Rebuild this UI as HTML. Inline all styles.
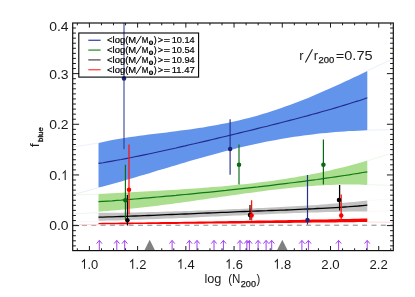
<!DOCTYPE html>
<html><head><meta charset="utf-8"><title>f_blue vs log N200</title>
<style>html,body{margin:0;padding:0;background:#fff;}body{width:415px;height:297px;overflow:hidden;position:relative;font-family:"Liberation Sans",sans-serif;}</style>
</head><body>
<svg width="415" height="297" viewBox="0 0 415 297" style="position:absolute;left:0;top:0;will-change:transform;font-family:'Liberation Sans',sans-serif">
<rect width="415" height="297" fill="#fff"/>
<line x1="72.6" y1="225.2" x2="393.3" y2="225.2" stroke="#858585" stroke-width="1" stroke-dasharray="5 4.34"/>
<polygon points="98.5,143.0 103.1,141.9 107.6,141.0 112.2,140.1 116.7,139.2 121.3,138.5 125.8,137.7 130.4,137.0 134.9,136.4 139.5,135.8 144.1,135.2 148.6,134.6 153.2,134.0 157.7,133.5 162.3,132.9 166.8,132.4 171.4,131.8 176.0,131.2 180.5,130.6 185.1,130.0 189.6,129.4 194.2,128.8 198.7,128.1 203.3,127.4 207.8,126.6 212.4,125.8 217.0,125.0 221.5,124.1 226.1,123.2 230.6,122.2 235.2,121.2 239.7,120.2 244.3,119.0 248.8,117.9 253.4,116.7 258.0,115.4 262.5,114.1 267.1,112.7 271.6,111.2 276.2,109.8 280.7,108.2 285.3,106.6 289.8,105.0 294.4,103.3 299.0,101.5 303.5,99.7 308.1,97.9 312.6,96.0 317.2,94.1 321.7,92.1 326.3,90.1 330.9,88.1 335.4,86.0 340.0,83.9 344.5,81.8 349.1,79.7 353.6,77.5 358.2,75.4 362.7,73.2 367.3,71.0 367.3,130.3 362.7,130.5 358.2,130.7 353.6,130.9 349.1,131.1 344.5,131.4 340.0,131.7 335.4,132.1 330.9,132.5 326.3,132.9 321.7,133.3 317.2,133.8 312.6,134.4 308.1,134.9 303.5,135.5 299.0,136.2 294.4,136.8 289.8,137.6 285.3,138.3 280.7,139.1 276.2,139.9 271.6,140.8 267.1,141.6 262.5,142.6 258.0,143.5 253.4,144.5 248.8,145.5 244.3,146.6 239.7,147.6 235.2,148.8 230.6,149.9 226.1,151.0 221.5,152.2 217.0,153.4 212.4,154.7 207.8,155.9 203.3,157.2 198.7,158.5 194.2,159.8 189.6,161.1 185.1,162.4 180.5,163.8 176.0,165.2 171.4,166.5 166.8,167.9 162.3,169.3 157.7,170.6 153.2,172.0 148.6,173.4 144.1,174.8 139.5,176.1 134.9,177.5 130.4,178.8 125.8,180.1 121.3,181.4 116.7,182.7 112.2,184.0 107.6,185.2 103.1,186.4 98.5,187.6" fill="#6394ec"/>
<polyline points="98.5,163.4 103.1,162.7 107.6,161.9 112.2,161.1 116.7,160.3 121.3,159.5 125.8,158.6 130.4,157.7 134.9,156.8 139.5,155.9 144.1,154.9 148.6,154.0 153.2,153.0 157.7,152.0 162.3,151.0 166.8,150.0 171.4,149.0 176.0,148.0 180.5,146.9 185.1,145.9 189.6,144.8 194.2,143.8 198.7,142.7 203.3,141.6 207.8,140.6 212.4,139.5 217.0,138.4 221.5,137.3 226.1,136.2 230.6,135.1 235.2,134.0 239.7,132.9 244.3,131.8 248.8,130.7 253.4,129.6 258.0,128.4 262.5,127.3 267.1,126.2 271.6,125.0 276.2,123.9 280.7,122.7 285.3,121.5 289.8,120.4 294.4,119.2 299.0,118.0 303.5,116.8 308.1,115.6 312.6,114.3 317.2,113.1 321.7,111.8 326.3,110.5 330.9,109.2 335.4,107.9 340.0,106.5 344.5,105.1 349.1,103.7 353.6,102.3 358.2,100.9 362.7,99.4 367.3,97.8" fill="none" stroke="#222b8a" stroke-width="1.1"/>
<polygon points="98.5,194.1 103.1,193.8 107.6,193.6 112.2,193.3 116.7,193.0 121.3,192.8 125.8,192.5 130.4,192.3 134.9,192.0 139.5,191.8 144.1,191.5 148.6,191.3 153.2,191.0 157.7,190.8 162.3,190.5 166.8,190.2 171.4,190.0 176.0,189.7 180.5,189.4 185.1,189.1 189.6,188.8 194.2,188.5 198.7,188.2 203.3,187.8 207.8,187.5 212.4,187.1 217.0,186.8 221.5,186.4 226.1,186.0 230.6,185.5 235.2,185.1 239.7,184.6 244.3,184.2 248.8,183.7 253.4,183.2 258.0,182.6 262.5,182.1 267.1,181.5 271.6,180.9 276.2,180.2 280.7,179.5 285.3,178.9 289.8,178.1 294.4,177.4 299.0,176.6 303.5,175.8 308.1,174.9 312.6,174.1 317.2,173.2 321.7,172.2 326.3,171.2 330.9,170.2 335.4,169.1 340.0,168.0 344.5,166.9 349.1,165.7 353.6,164.5 358.2,163.2 362.7,161.9 367.3,160.6 367.3,184.9 362.7,184.7 358.2,184.6 353.6,184.5 349.1,184.5 344.5,184.6 340.0,184.6 335.4,184.8 330.9,184.9 326.3,185.1 321.7,185.4 317.2,185.6 312.6,186.0 308.1,186.3 303.5,186.7 299.0,187.1 294.4,187.5 289.8,188.0 285.3,188.5 280.7,189.0 276.2,189.5 271.6,190.0 267.1,190.6 262.5,191.2 258.0,191.8 253.4,192.4 248.8,193.0 244.3,193.6 239.7,194.2 235.2,194.9 230.6,195.5 226.1,196.2 221.5,196.8 217.0,197.5 212.4,198.1 207.8,198.8 203.3,199.5 198.7,200.1 194.2,200.8 189.6,201.4 185.1,202.0 180.5,202.7 176.0,203.3 171.4,203.9 166.8,204.5 162.3,205.1 157.7,205.7 153.2,206.2 148.6,206.8 144.1,207.3 139.5,207.8 134.9,208.3 130.4,208.8 125.8,209.3 121.3,209.7 116.7,210.2 112.2,210.6 107.6,211.0 103.1,211.3 98.5,211.7" fill="#abdf8f"/>
<polyline points="98.5,201.7 103.1,201.4 107.6,201.1 112.2,200.8 116.7,200.4 121.3,200.1 125.8,199.7 130.4,199.4 134.9,199.0 139.5,198.6 144.1,198.2 148.6,197.8 153.2,197.4 157.7,197.0 162.3,196.6 166.8,196.2 171.4,195.8 176.0,195.4 180.5,194.9 185.1,194.5 189.6,194.1 194.2,193.6 198.7,193.2 203.3,192.7 207.8,192.3 212.4,191.8 217.0,191.3 221.5,190.8 226.1,190.4 230.6,189.9 235.2,189.4 239.7,188.9 244.3,188.4 248.8,187.9 253.4,187.4 258.0,186.9 262.5,186.3 267.1,185.8 271.6,185.3 276.2,184.7 280.7,184.2 285.3,183.6 289.8,183.0 294.4,182.5 299.0,181.9 303.5,181.3 308.1,180.7 312.6,180.1 317.2,179.5 321.7,178.8 326.3,178.2 330.9,177.5 335.4,176.8 340.0,176.2 344.5,175.5 349.1,174.8 353.6,174.0 358.2,173.3 362.7,172.5 367.3,171.8" fill="none" stroke="#107818" stroke-width="1.25"/>
<polygon points="98.5,212.8 103.1,212.8 107.6,212.8 112.2,212.8 116.7,212.7 121.3,212.7 125.8,212.6 130.4,212.5 134.9,212.4 139.5,212.3 144.1,212.2 148.6,212.1 153.2,212.0 157.7,211.9 162.3,211.8 166.8,211.6 171.4,211.5 176.0,211.3 180.5,211.2 185.1,211.0 189.6,210.9 194.2,210.7 198.7,210.6 203.3,210.4 207.8,210.2 212.4,210.1 217.0,209.9 221.5,209.7 226.1,209.5 230.6,209.3 235.2,209.1 239.7,209.0 244.3,208.8 248.8,208.6 253.4,208.4 258.0,208.1 262.5,207.9 267.1,207.7 271.6,207.5 276.2,207.3 280.7,207.0 285.3,206.8 289.8,206.5 294.4,206.3 299.0,206.0 303.5,205.7 308.1,205.5 312.6,205.2 317.2,204.9 321.7,204.5 326.3,204.2 330.9,203.8 335.4,203.5 340.0,203.1 344.5,202.7 349.1,202.3 353.6,201.9 358.2,201.4 362.7,200.9 367.3,200.4 367.3,211.4 362.7,211.4 358.2,211.5 353.6,211.5 349.1,211.6 344.5,211.7 340.0,211.8 335.4,211.9 330.9,212.0 326.3,212.1 321.7,212.2 317.2,212.4 312.6,212.5 308.1,212.6 303.5,212.8 299.0,212.9 294.4,213.1 289.8,213.3 285.3,213.5 280.7,213.6 276.2,213.8 271.6,214.0 267.1,214.2 262.5,214.4 258.0,214.6 253.4,214.8 248.8,215.0 244.3,215.2 239.7,215.4 235.2,215.6 230.6,215.8 226.1,216.0 221.5,216.2 217.0,216.4 212.4,216.6 207.8,216.8 203.3,217.0 198.7,217.3 194.2,217.5 189.6,217.7 185.1,217.9 180.5,218.1 176.0,218.3 171.4,218.4 166.8,218.6 162.3,218.8 157.7,219.0 153.2,219.2 148.6,219.3 144.1,219.5 139.5,219.7 134.9,219.8 130.4,220.0 125.8,220.1 121.3,220.3 116.7,220.4 112.2,220.5 107.6,220.6 103.1,220.7 98.5,220.8" fill="#c2c2c2"/>
<polyline points="98.5,217.2 103.1,217.1 107.6,216.9 112.2,216.8 116.7,216.7 121.3,216.5 125.8,216.4 130.4,216.2 134.9,216.0 139.5,215.9 144.1,215.7 148.6,215.5 153.2,215.3 157.7,215.1 162.3,214.9 166.8,214.7 171.4,214.5 176.0,214.3 180.5,214.2 185.1,214.0 189.6,213.8 194.2,213.6 198.7,213.4 203.3,213.2 207.8,213.0 212.4,212.8 217.0,212.6 221.5,212.4 226.1,212.3 230.6,212.1 235.2,211.9 239.7,211.7 244.3,211.5 248.8,211.4 253.4,211.2 258.0,211.0 262.5,210.8 267.1,210.7 271.6,210.5 276.2,210.3 280.7,210.1 285.3,210.0 289.8,209.8 294.4,209.6 299.0,209.4 303.5,209.2 308.1,209.0 312.6,208.8 317.2,208.5 321.7,208.3 326.3,208.1 330.9,207.8 335.4,207.6 340.0,207.3 344.5,207.0 349.1,206.7 353.6,206.3 358.2,206.0 362.7,205.6 367.3,205.2" fill="none" stroke="#000" stroke-width="1.3"/>
<polygon points="98.5,222.9 103.1,222.8 107.6,222.8 112.2,222.7 116.7,222.7 121.3,222.6 125.8,222.6 130.4,222.5 134.9,222.5 139.5,222.4 144.1,222.4 148.6,222.3 153.2,222.2 157.7,222.2 162.3,222.1 166.8,222.1 171.4,222.0 176.0,221.9 180.5,221.9 185.1,221.8 189.6,221.7 194.2,221.7 198.7,221.6 203.3,221.5 207.8,221.5 212.4,221.4 217.0,221.3 221.5,221.2 226.1,221.2 230.6,221.1 235.2,221.0 239.7,221.0 244.3,220.9 248.8,220.8 253.4,220.7 258.0,220.6 262.5,220.6 267.1,220.5 271.6,220.4 276.2,220.3 280.7,220.2 285.3,220.2 289.8,220.1 294.4,220.0 299.0,219.9 303.5,219.8 308.1,219.7 312.6,219.6 317.2,219.5 321.7,219.5 326.3,219.4 330.9,219.3 335.4,219.2 340.0,219.1 344.5,219.0 349.1,218.9 353.6,218.8 358.2,218.7 362.7,218.6 367.3,218.5 367.3,222.0 362.7,222.1 358.2,222.1 353.6,222.2 349.1,222.2 344.5,222.3 340.0,222.3 335.4,222.4 330.9,222.4 326.3,222.5 321.7,222.5 317.2,222.6 312.6,222.6 308.1,222.7 303.5,222.7 299.0,222.8 294.4,222.8 289.8,222.9 285.3,222.9 280.7,223.0 276.2,223.0 271.6,223.1 267.1,223.1 262.5,223.2 258.0,223.2 253.4,223.2 248.8,223.3 244.3,223.3 239.7,223.4 235.2,223.4 230.6,223.4 226.1,223.5 221.5,223.5 217.0,223.6 212.4,223.6 207.8,223.6 203.3,223.7 198.7,223.7 194.2,223.7 189.6,223.8 185.1,223.8 180.5,223.8 176.0,223.9 171.4,223.9 166.8,223.9 162.3,224.0 157.7,224.0 153.2,224.0 148.6,224.0 144.1,224.1 139.5,224.1 134.9,224.1 130.4,224.2 125.8,224.2 121.3,224.2 116.7,224.2 112.2,224.2 107.6,224.3 103.1,224.3 98.5,224.3" fill="#ff0000"/>
<line x1="73.4" y1="147.0" x2="98.4" y2="143.0" stroke="#eef2fd" stroke-width="1"/>
<line x1="73.4" y1="194.6" x2="98.4" y2="187.7" stroke="#e9effd" stroke-width="1"/>
<line x1="73.4" y1="194.9" x2="98.4" y2="194.2" stroke="#eef8ea" stroke-width="1"/>
<line x1="73.4" y1="213.8" x2="98.4" y2="212.6" stroke="#eef6ea" stroke-width="1"/>
<line x1="73.4" y1="221.6" x2="98.4" y2="221.8" stroke="#fff3f3" stroke-width="1"/>
<line x1="79.2" y1="224.6" x2="98.4" y2="224.6" stroke="#ffd6d6" stroke-width="1.0"/>
<line x1="367.3" y1="70.8" x2="392.6" y2="59.0" stroke="#e9effd" stroke-width="1"/>
<line x1="367.3" y1="130.2" x2="392.6" y2="129.6" stroke="#e9effd" stroke-width="1"/>
<line x1="367.3" y1="160.8" x2="392.6" y2="153.0" stroke="#eef8ea" stroke-width="1"/>
<line x1="367.3" y1="184.6" x2="392.6" y2="185.5" stroke="#eef8ea" stroke-width="1"/>
<line x1="367.3" y1="200.8" x2="392.6" y2="198.6" stroke="#fef8f8" stroke-width="1"/>
<line x1="367.3" y1="211.4" x2="392.6" y2="210.6" stroke="#fef8f8" stroke-width="1"/>
<line x1="367.3" y1="222.0" x2="392.6" y2="222.4" stroke="#ffdcdc" stroke-width="1"/>
<clipPath id="cp"><rect x="72.7" y="23.0" width="320.6" height="227.6"/></clipPath><g clip-path="url(#cp)">
<line x1="124.0" y1="10" x2="124.0" y2="149.2" stroke="#26308c" stroke-width="1.0"/>
<line x1="125.4" y1="164.7" x2="125.4" y2="219.5" stroke="#0a6a14" stroke-width="1.15"/>
<line x1="127.4" y1="195.1" x2="127.4" y2="225.6" stroke="#000" stroke-width="1.15"/>
<line x1="129.0" y1="144.5" x2="129.0" y2="214.6" stroke="#ff1414" stroke-width="1.3"/>
<line x1="230.1" y1="119.2" x2="230.1" y2="174.8" stroke="#26308c" stroke-width="1.15"/>
<line x1="239.0" y1="144.5" x2="239.0" y2="184.5" stroke="#0a6a14" stroke-width="1.15"/>
<line x1="250.0" y1="205.0" x2="250.0" y2="220.0" stroke="#000" stroke-width="1.2"/>
<line x1="251.6" y1="200.3" x2="251.6" y2="220.5" stroke="#ff1414" stroke-width="1.3"/>
<line x1="307.5" y1="174.9" x2="307.5" y2="224.6" stroke="#26308c" stroke-width="1.2"/>
<line x1="323.4" y1="139.5" x2="323.4" y2="184.6" stroke="#0a6a14" stroke-width="1.2"/>
<line x1="339.6" y1="185.0" x2="339.6" y2="210.4" stroke="#000" stroke-width="1.3"/>
<line x1="341.2" y1="194.6" x2="341.2" y2="220.5" stroke="#ff1414" stroke-width="1.3"/>
<circle cx="124.0" cy="78.6" r="2.25" fill="#1c2478"/>
<circle cx="125.4" cy="200.2" r="2.25" fill="#0a6a14"/>
<circle cx="127.4" cy="220.2" r="2.25" fill="#000"/>
<circle cx="129.0" cy="189.8" r="2.25" fill="#ff0000"/>
<circle cx="230.1" cy="149.1" r="2.25" fill="#1c2478"/>
<circle cx="239.0" cy="164.7" r="2.25" fill="#0a6a14"/>
<circle cx="250.0" cy="214.9" r="2.25" fill="#000"/>
<circle cx="251.6" cy="215.5" r="2.25" fill="#ff0000"/>
<circle cx="307.5" cy="220.1" r="2.25" fill="#1c2478"/>
<circle cx="323.4" cy="164.8" r="2.25" fill="#0a6a14"/>
<circle cx="339.0" cy="199.9" r="2.25" fill="#000"/>
<circle cx="341.2" cy="215.5" r="2.25" fill="#ff0000"/>
</g>
<path d="M99.3 250.4 V240.6 M96.6 243.6 L99.3 240.4 L102.0 243.6" fill="none" stroke="#a040f0" stroke-width="1"/>
<path d="M116.8 250.4 V240.6 M114.1 243.6 L116.8 240.4 L119.5 243.6" fill="none" stroke="#a040f0" stroke-width="1"/>
<path d="M124.7 250.4 V240.6 M122.0 243.6 L124.7 240.4 L127.4 243.6" fill="none" stroke="#a040f0" stroke-width="1"/>
<path d="M172.1 250.4 V240.6 M169.4 243.6 L172.1 240.4 L174.79999999999998 243.6" fill="none" stroke="#a040f0" stroke-width="1"/>
<path d="M189.4 250.4 V240.6 M186.70000000000002 243.6 L189.4 240.4 L192.1 243.6" fill="none" stroke="#a040f0" stroke-width="1"/>
<path d="M197 250.4 V240.6 M194.3 243.6 L197 240.4 L199.7 243.6" fill="none" stroke="#a040f0" stroke-width="1"/>
<path d="M214 250.4 V240.6 M211.3 243.6 L214 240.4 L216.7 243.6" fill="none" stroke="#a040f0" stroke-width="1"/>
<path d="M223.4 250.4 V240.6 M220.70000000000002 243.6 L223.4 240.4 L226.1 243.6" fill="none" stroke="#a040f0" stroke-width="1"/>
<path d="M240 250.4 V240.6 M237.3 243.6 L240 240.4 L242.7 243.6" fill="none" stroke="#a040f0" stroke-width="1"/>
<path d="M246.9 250.4 V240.6 M244.20000000000002 243.6 L246.9 240.4 L249.6 243.6" fill="none" stroke="#a040f0" stroke-width="1"/>
<path d="M249.4 250.4 V240.6 M246.70000000000002 243.6 L249.4 240.4 L252.1 243.6" fill="none" stroke="#a040f0" stroke-width="1"/>
<path d="M258.1 250.4 V240.6 M255.40000000000003 243.6 L258.1 240.4 L260.8 243.6" fill="none" stroke="#a040f0" stroke-width="1"/>
<path d="M266.1 250.4 V240.6 M263.40000000000003 243.6 L266.1 240.4 L268.8 243.6" fill="none" stroke="#a040f0" stroke-width="1"/>
<path d="M271.7 250.4 V240.6 M269.0 243.6 L271.7 240.4 L274.4 243.6" fill="none" stroke="#a040f0" stroke-width="1"/>
<path d="M301.9 250.4 V240.6 M299.2 243.6 L301.9 240.4 L304.59999999999997 243.6" fill="none" stroke="#a040f0" stroke-width="1"/>
<path d="M308.4 250.4 V240.6 M305.7 243.6 L308.4 240.4 L311.09999999999997 243.6" fill="none" stroke="#a040f0" stroke-width="1"/>
<path d="M338.6 250.4 V240.6 M335.90000000000003 243.6 L338.6 240.4 L341.3 243.6" fill="none" stroke="#a040f0" stroke-width="1"/>
<path d="M367.2 250.4 V240.6 M364.5 243.6 L367.2 240.4 L369.9 243.6" fill="none" stroke="#a040f0" stroke-width="1"/>
<path d="M77.34 250.6 v-2.3 M77.34 23.0 v2.3 M89.40 250.6 v-4.6 M89.40 23.0 v4.6 M101.46 250.6 v-2.3 M101.46 23.0 v2.3 M113.51 250.6 v-2.3 M113.51 23.0 v2.3 M125.56 250.6 v-2.3 M125.56 23.0 v2.3 M137.62 250.6 v-4.6 M137.62 23.0 v4.6 M149.68 250.6 v-2.3 M149.68 23.0 v2.3 M161.73 250.6 v-2.3 M161.73 23.0 v2.3 M173.79 250.6 v-2.3 M173.79 23.0 v2.3 M185.84 250.6 v-4.6 M185.84 23.0 v4.6 M197.89 250.6 v-2.3 M197.89 23.0 v2.3 M209.95 250.6 v-2.3 M209.95 23.0 v2.3 M222.01 250.6 v-2.3 M222.01 23.0 v2.3 M234.06 250.6 v-4.6 M234.06 23.0 v4.6 M246.11 250.6 v-2.3 M246.11 23.0 v2.3 M258.17 250.6 v-2.3 M258.17 23.0 v2.3 M270.23 250.6 v-2.3 M270.23 23.0 v2.3 M282.28 250.6 v-4.6 M282.28 23.0 v4.6 M294.34 250.6 v-2.3 M294.34 23.0 v2.3 M306.39 250.6 v-2.3 M306.39 23.0 v2.3 M318.44 250.6 v-2.3 M318.44 23.0 v2.3 M330.50 250.6 v-4.6 M330.50 23.0 v4.6 M342.55 250.6 v-2.3 M342.55 23.0 v2.3 M354.61 250.6 v-2.3 M354.61 23.0 v2.3 M366.66 250.6 v-2.3 M366.66 23.0 v2.3 M378.72 250.6 v-4.6 M378.72 23.0 v4.6 M390.77 250.6 v-2.3 M390.77 23.0 v2.3 M72.7 245.86 h3.2 M393.3 245.86 h-3.2 M72.7 240.80 h3.2 M393.3 240.80 h-3.2 M72.7 235.73 h3.2 M393.3 235.73 h-3.2 M72.7 230.67 h3.2 M393.3 230.67 h-3.2 M72.7 225.60 h6.4 M393.3 225.60 h-6.4 M72.7 220.53 h3.2 M393.3 220.53 h-3.2 M72.7 215.47 h3.2 M393.3 215.47 h-3.2 M72.7 210.40 h3.2 M393.3 210.40 h-3.2 M72.7 205.34 h3.2 M393.3 205.34 h-3.2 M72.7 200.27 h3.2 M393.3 200.27 h-3.2 M72.7 195.20 h3.2 M393.3 195.20 h-3.2 M72.7 190.14 h3.2 M393.3 190.14 h-3.2 M72.7 185.07 h3.2 M393.3 185.07 h-3.2 M72.7 180.01 h3.2 M393.3 180.01 h-3.2 M72.7 174.94 h6.4 M393.3 174.94 h-6.4 M72.7 169.87 h3.2 M393.3 169.87 h-3.2 M72.7 164.81 h3.2 M393.3 164.81 h-3.2 M72.7 159.74 h3.2 M393.3 159.74 h-3.2 M72.7 154.68 h3.2 M393.3 154.68 h-3.2 M72.7 149.61 h3.2 M393.3 149.61 h-3.2 M72.7 144.54 h3.2 M393.3 144.54 h-3.2 M72.7 139.48 h3.2 M393.3 139.48 h-3.2 M72.7 134.41 h3.2 M393.3 134.41 h-3.2 M72.7 129.35 h3.2 M393.3 129.35 h-3.2 M72.7 124.28 h6.4 M393.3 124.28 h-6.4 M72.7 119.21 h3.2 M393.3 119.21 h-3.2 M72.7 114.15 h3.2 M393.3 114.15 h-3.2 M72.7 109.08 h3.2 M393.3 109.08 h-3.2 M72.7 104.02 h3.2 M393.3 104.02 h-3.2 M72.7 98.95 h3.2 M393.3 98.95 h-3.2 M72.7 93.88 h3.2 M393.3 93.88 h-3.2 M72.7 88.82 h3.2 M393.3 88.82 h-3.2 M72.7 83.75 h3.2 M393.3 83.75 h-3.2 M72.7 78.69 h3.2 M393.3 78.69 h-3.2 M72.7 73.62 h6.4 M393.3 73.62 h-6.4 M72.7 68.55 h3.2 M393.3 68.55 h-3.2 M72.7 63.49 h3.2 M393.3 63.49 h-3.2 M72.7 58.42 h3.2 M393.3 58.42 h-3.2 M72.7 53.36 h3.2 M393.3 53.36 h-3.2 M72.7 48.29 h3.2 M393.3 48.29 h-3.2 M72.7 43.22 h3.2 M393.3 43.22 h-3.2 M72.7 38.16 h3.2 M393.3 38.16 h-3.2 M72.7 33.09 h3.2 M393.3 33.09 h-3.2 M72.7 28.03 h3.2 M393.3 28.03 h-3.2" stroke="#1a1a1a" stroke-width="1.0" fill="none"/>
<polygon points="144.29999999999998,250.5 149.7,239.8 155.1,250.5" fill="#808080"/>
<polygon points="276.90000000000003,250.5 282.3,239.8 287.7,250.5" fill="#808080"/>
<rect x="72.7" y="23.0" width="320.6" height="227.6" fill="none" stroke="#111" stroke-width="1.2"/>
<path d="M82.00 262.20 L84.50 259.70 V268.70" fill="none" stroke="#1a1a1a" stroke-width="1.05" stroke-linejoin="miter"/>
<text x="87.4" y="268.7" font-size="12.5" fill="#1a1a1a" textLength="10.8" lengthAdjust="spacingAndGlyphs">.0</text>
<path d="M130.22 262.20 L132.72 259.70 V268.70" fill="none" stroke="#1a1a1a" stroke-width="1.05" stroke-linejoin="miter"/>
<text x="135.6" y="268.7" font-size="12.5" fill="#1a1a1a" textLength="10.8" lengthAdjust="spacingAndGlyphs">.2</text>
<path d="M178.44 262.20 L180.94 259.70 V268.70" fill="none" stroke="#1a1a1a" stroke-width="1.05" stroke-linejoin="miter"/>
<text x="183.8" y="268.7" font-size="12.5" fill="#1a1a1a" textLength="10.8" lengthAdjust="spacingAndGlyphs">.4</text>
<path d="M226.66 262.20 L229.16 259.70 V268.70" fill="none" stroke="#1a1a1a" stroke-width="1.05" stroke-linejoin="miter"/>
<text x="232.1" y="268.7" font-size="12.5" fill="#1a1a1a" textLength="10.8" lengthAdjust="spacingAndGlyphs">.6</text>
<path d="M274.88 262.20 L277.38 259.70 V268.70" fill="none" stroke="#1a1a1a" stroke-width="1.05" stroke-linejoin="miter"/>
<text x="280.3" y="268.7" font-size="12.5" fill="#1a1a1a" textLength="10.8" lengthAdjust="spacingAndGlyphs">.8</text>
<text x="330.5" y="268.7" font-size="12.5" text-anchor="middle" fill="#1a1a1a" textLength="18.4" lengthAdjust="spacingAndGlyphs">2.0</text>
<text x="378.7" y="268.7" font-size="12.5" text-anchor="middle" fill="#1a1a1a" textLength="18.4" lengthAdjust="spacingAndGlyphs">2.2</text>
<text x="49.2" y="230.0" font-size="12.5" fill="#1a1a1a" textLength="19.4" lengthAdjust="spacingAndGlyphs">0.0</text>
<text x="49.2" y="180.0" font-size="12.5" fill="#1a1a1a" textLength="12.0" lengthAdjust="spacingAndGlyphs">0.</text>
<path d="M62.70 173.50 L65.20 171.00 V180.00" fill="none" stroke="#1a1a1a" stroke-width="1.05" stroke-linejoin="miter"/>
<text x="49.2" y="129.0" font-size="12.5" fill="#1a1a1a" textLength="19.4" lengthAdjust="spacingAndGlyphs">0.2</text>
<text x="49.2" y="79.0" font-size="12.5" fill="#1a1a1a" textLength="19.4" lengthAdjust="spacingAndGlyphs">0.3</text>
<text x="49.2" y="31.0" font-size="12.5" fill="#1a1a1a" textLength="19.4" lengthAdjust="spacingAndGlyphs">0.4</text>
<text x="204.4" y="283.4" font-size="12.7" fill="#1a1a1a" textLength="17" lengthAdjust="spacingAndGlyphs">log</text>
<text x="228.2" y="283.4" font-size="12.7" fill="#1a1a1a" textLength="12.2" lengthAdjust="spacingAndGlyphs">(N</text>
<text x="240.8" y="286.7" font-size="8.6" fill="#1a1a1a" stroke="#1a1a1a" stroke-width="0.25" textLength="15.2" lengthAdjust="spacingAndGlyphs">200</text>
<text x="256.6" y="283.4" font-size="12.7" fill="#1a1a1a" textLength="3.8" lengthAdjust="spacingAndGlyphs">)</text>
<g transform="translate(38.7,146.8) rotate(-90)"><text x="-0.4" y="0" font-size="12.5" fill="#1a1a1a" textLength="4.1" lengthAdjust="spacingAndGlyphs">f</text><text x="4.9" y="3.8" font-size="7.2" fill="#1a1a1a" stroke="#1a1a1a" stroke-width="0.35" textLength="14.6" lengthAdjust="spacingAndGlyphs">blue</text></g>
<text x="299.3" y="59.8" font-size="13" fill="#1a1a1a">r</text>
<line x1="305.4" y1="62.5" x2="312.5" y2="49.3" stroke="#1a1a1a" stroke-width="1.05"/>
<text x="313.7" y="59.8" font-size="13" fill="#1a1a1a">r</text>
<text x="318.5" y="63.0" font-size="8.6" fill="#1a1a1a" stroke="#1a1a1a" stroke-width="0.25" textLength="15.8" lengthAdjust="spacingAndGlyphs">200</text>
<text x="335.8" y="59.8" font-size="13" fill="#1a1a1a" textLength="36.8" lengthAdjust="spacingAndGlyphs">=0.75</text>
<rect x="78.8" y="33.0" width="119.8" height="44.1" fill="none" stroke="#000" stroke-width="1.1"/>
<line x1="88.3" y1="40.3" x2="100.6" y2="40.3" stroke="#4858b0" stroke-width="1.4"/>
<text x="107.1" y="43.0" font-size="8.8" fill="#000" stroke="#000" stroke-width="0.2" textLength="29.1" lengthAdjust="spacingAndGlyphs">&lt;log(M</text>
<line x1="136.1" y1="44.2" x2="141.3" y2="35.9" stroke="#000" stroke-width="0.95"/>
<text x="141.8" y="43.0" font-size="8.8" fill="#000" stroke="#000" stroke-width="0.2" textLength="6.6" lengthAdjust="spacingAndGlyphs">M</text>
<circle cx="151.0" cy="42.7" r="1.65" fill="none" stroke="#000" stroke-width="1.1"/><circle cx="151.0" cy="42.7" r="0.55" fill="#000"/>
<text x="153.8" y="43.0" font-size="8.8" fill="#000" stroke="#000" stroke-width="0.2">)</text>
<text x="157.7" y="43.0" font-size="8.8" fill="#000" stroke="#000" stroke-width="0.2" textLength="5.4" lengthAdjust="spacingAndGlyphs">&gt;</text>
<text x="163.7" y="43.0" font-size="8.8" fill="#000" stroke="#000" stroke-width="0.2" textLength="6.3" lengthAdjust="spacingAndGlyphs">=</text>
<text x="171.7" y="43.0" font-size="8.8" fill="#000" stroke="#000" stroke-width="0.2" textLength="23.0" lengthAdjust="spacingAndGlyphs">10.14</text>
<line x1="88.3" y1="50.1" x2="100.6" y2="50.1" stroke="#3a9a3a" stroke-width="1.4"/>
<text x="107.1" y="53.0" font-size="8.8" fill="#000" stroke="#000" stroke-width="0.2" textLength="29.1" lengthAdjust="spacingAndGlyphs">&lt;log(M</text>
<line x1="136.1" y1="54.2" x2="141.3" y2="45.9" stroke="#000" stroke-width="0.95"/>
<text x="141.8" y="53.0" font-size="8.8" fill="#000" stroke="#000" stroke-width="0.2" textLength="6.6" lengthAdjust="spacingAndGlyphs">M</text>
<circle cx="151.0" cy="52.7" r="1.65" fill="none" stroke="#000" stroke-width="1.1"/><circle cx="151.0" cy="52.7" r="0.55" fill="#000"/>
<text x="153.8" y="53.0" font-size="8.8" fill="#000" stroke="#000" stroke-width="0.2">)</text>
<text x="157.7" y="53.0" font-size="8.8" fill="#000" stroke="#000" stroke-width="0.2" textLength="5.4" lengthAdjust="spacingAndGlyphs">&gt;</text>
<text x="163.7" y="53.0" font-size="8.8" fill="#000" stroke="#000" stroke-width="0.2" textLength="6.3" lengthAdjust="spacingAndGlyphs">=</text>
<text x="171.7" y="53.0" font-size="8.8" fill="#000" stroke="#000" stroke-width="0.2" textLength="23.0" lengthAdjust="spacingAndGlyphs">10.54</text>
<line x1="88.3" y1="59.9" x2="100.6" y2="59.9" stroke="#606060" stroke-width="1.4"/>
<text x="107.1" y="63.0" font-size="8.8" fill="#000" stroke="#000" stroke-width="0.2" textLength="29.1" lengthAdjust="spacingAndGlyphs">&lt;log(M</text>
<line x1="136.1" y1="64.2" x2="141.3" y2="55.9" stroke="#000" stroke-width="0.95"/>
<text x="141.8" y="63.0" font-size="8.8" fill="#000" stroke="#000" stroke-width="0.2" textLength="6.6" lengthAdjust="spacingAndGlyphs">M</text>
<circle cx="151.0" cy="62.7" r="1.65" fill="none" stroke="#000" stroke-width="1.1"/><circle cx="151.0" cy="62.7" r="0.55" fill="#000"/>
<text x="153.8" y="63.0" font-size="8.8" fill="#000" stroke="#000" stroke-width="0.2">)</text>
<text x="157.7" y="63.0" font-size="8.8" fill="#000" stroke="#000" stroke-width="0.2" textLength="5.4" lengthAdjust="spacingAndGlyphs">&gt;</text>
<text x="163.7" y="63.0" font-size="8.8" fill="#000" stroke="#000" stroke-width="0.2" textLength="6.3" lengthAdjust="spacingAndGlyphs">=</text>
<text x="171.7" y="63.0" font-size="8.8" fill="#000" stroke="#000" stroke-width="0.2" textLength="23.0" lengthAdjust="spacingAndGlyphs">10.94</text>
<line x1="88.3" y1="69.7" x2="100.6" y2="69.7" stroke="#ff5050" stroke-width="1.4"/>
<text x="107.1" y="73.0" font-size="8.8" fill="#000" stroke="#000" stroke-width="0.2" textLength="29.1" lengthAdjust="spacingAndGlyphs">&lt;log(M</text>
<line x1="136.1" y1="74.2" x2="141.3" y2="65.9" stroke="#000" stroke-width="0.95"/>
<text x="141.8" y="73.0" font-size="8.8" fill="#000" stroke="#000" stroke-width="0.2" textLength="6.6" lengthAdjust="spacingAndGlyphs">M</text>
<circle cx="151.0" cy="72.7" r="1.65" fill="none" stroke="#000" stroke-width="1.1"/><circle cx="151.0" cy="72.7" r="0.55" fill="#000"/>
<text x="153.8" y="73.0" font-size="8.8" fill="#000" stroke="#000" stroke-width="0.2">)</text>
<text x="157.7" y="73.0" font-size="8.8" fill="#000" stroke="#000" stroke-width="0.2" textLength="5.4" lengthAdjust="spacingAndGlyphs">&gt;</text>
<text x="163.7" y="73.0" font-size="8.8" fill="#000" stroke="#000" stroke-width="0.2" textLength="6.3" lengthAdjust="spacingAndGlyphs">=</text>
<text x="171.7" y="73.0" font-size="8.8" fill="#000" stroke="#000" stroke-width="0.2" textLength="23.0" lengthAdjust="spacingAndGlyphs">11.47</text>
</svg>
</body></html>
